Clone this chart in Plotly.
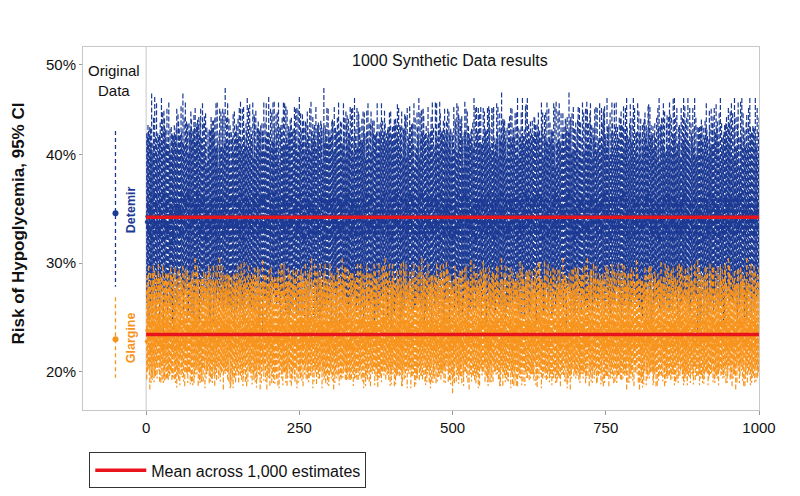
import plotly.graph_objects as go

# ---------------- data ----------------
# Original data: point estimate, lower and upper 95% CI (percent)
ORIG_X = -50
DETEMIR_ORIG = {"est": 34.6, "lo": 27.8, "hi": 42.2}
GLARGINE_ORIG = {"est": 22.95, "lo": 19.4, "hi": 26.85}

# 1000 synthetic data results, read off the picture and stored as digit codes
# (one digit per synthetic data set, 0-9).
# estimate (%) = EST_BASE + EST_STEP * code
# upper CI (%) = estimate + UP_BASE + UP_STEP * spread code
# lower CI (%) = estimate - DN_BASE - DN_STEP * spread code
DETEMIR_SCALE = {"EST_BASE": 31.8, "EST_STEP": 0.5, "UP_BASE": 6.1, "UP_STEP": 0.42, "DN_BASE": 6.0, "DN_STEP": 0.3}
GLARGINE_SCALE = {"EST_BASE": 21.7, "EST_STEP": 0.35, "UP_BASE": 4.0, "UP_STEP": 0.18, "DN_BASE": 3.0, "DN_STEP": 0.14}

DETEMIR_EST_CODE = [
    "4537264581 3649527345 5263847195 4736258340 6425183756 3574629548 2648573915 5384726457 4659372864 3725846153",
    "5436274853 4627385146 3845627394 6273548152 4538264735 5729346185 3456827463 6348257194 4572638451 5836472539",
    "4263758496 3547286153 5648372945 2735486164 4856273549 3672548157 5483627496 4726358243 6352847159 3845726648",
    "5274638451 4638527364 3756284915 5482637348 4627385562 3548276149 6735248453 4826357134 5367482695 4453627381",
    "3627485946 5743628153 4586273449 6348527162 3754826395 4682537148 5436728354 2847365196 4573826447 5638274351",
    "4825637294 3574826159 5648273436 4362857184 6735482547 3846257395 5427368142 4758236649 3564827153 5283746458",
    "4637285143 5728463596 3854627248 4576382957 6243857134 3758426465 5362748193 4827536346 3645827559 5472638142",
    "6354827461 4837256395 3526748154 5648372647 4273586935 3865427148 5437268563 4625837294 3748562156 5364827445",
    "4728365143 3657482596 5843627245 4362758164 6547283359 3728546147 4856372563 5273648495 3648527154 4735826360",
    "5362748451 4857362394 3645827546 5734628153 4263857467 3584726258 6427385149 4836527364 3574862547 5248637356",
]
DETEMIR_SPREAD_CODE = [
    "5382746194 4627358153 3754826947 6248537365 4573826158 3846275439 5627348146 4758263957 3462857384 5836427150",
    "4273856349 5648372158 3527846493 6384752146 4825637357 3746528465 5263847195 4637285342 6548372169 3725486457",
    "5483627364 3856274158 4627385549 5374826136 3648572947 4725863454 6358247163 3574826468 5846372259 4263758341",
    "3748526159 5627384452 4836257367 3564827148 6247358546 4735862354 3846275169 5372648457 4658237346 3527486258",
    "6453827149 3728465357 5846273455 4372658163 3654827549 5847263346 4263587152 3758426467 5426378354 4835726148",
    "3647528359 5738462146 4825736453 6354827265 3748265147 4563827359 5237486445 3846257168 4758362354 6245738451",
    "4736285347 3658427159 5827364453 4356827146 3842756369 5627348452 4735826164 3568247357 6427385148 4853726465",
    "5348627153 4726358469 3657842354 5836274148 4273658563 3845726457 6538247145 4627583356 3748526269 5463827154",
    "4825637348 3576428159 5648273456 4362758247 6738452163 3547826359 4836275148 5274638456 3658247365 4735826147",
    "5647382354 4358726146 3826457459 5463728163 4738265347 3654827258 6245873146 4837562359 3572846453 5468237146",
]
GLARGINE_EST_CODE = [
    "3658427145 4826357369 5473628154 3748526457 6254837163 4637285548 3825746156 5364827249 4758362154 3647528356",
    "5826374158 4357286349 3648527456 5736482164 4285637357 3754826149 5462738456 4638527263 3857426159 5476382347",
    "4368257154 5647382469 3725846153 4856273347 6347528156 3584726458 4736258349 5263847157 3648572465 4825637148",
    "5374826156 3846275349 4658372257 3527486164 6453827358 4738265147 3654827456 5827364148 4362758359 3746528153",
    "4857263346 5637482158 3748526457 6247358163 4536827349 3857426258 5362748146 4728365357 3645827169 5846273451",
    "3528746354 4637285158 5846372459 3754826246 4263857358 5748362147 3625847456 4857362159 6347528254 3758246163",
    "5463827348 3728465157 4586273456 5347826149 3856274358 4627385246 6238547153 3745826459 5837462146 4263758357",
    "3647825156 5736482349 4825637158 3568247456 6354827147 4738265358 3827456149 5463728357 4652837146 3754826459",
    "5836274153 4357826348 3748562156 6253847459 4637528146 3845726357 5274638149 4758362256 3627485158 5436827349",
    "4726358154 3857462349 5648273156 4372658457 3547826149 6835427356 4263857148 5746382359 3654728146 4827365357",
]
GLARGINE_SPREAD_CODE = [
    "4627385159 5738264346 3846527157 4563827458 6275348149 3847526357 5364728146 4728356459 3657842148 5486273356",
    "3748526157 4856273349 5627384156 3546827458 4738265149 6354827357 3826457146 5473628359 4657382148 3746528257",
    "5836472149 4263857356 3754826158 5627348457 4386275146 3857462358 6247385149 4735826256 3568427159 5846372348",
    "4357286153 3648527459 5736482147 4825637356 3574826158 6453728349 4728365156 3856247458 5263847149 4637528357",
    "3854627148 5427386359 4658372156 3746258457 5834726149 4263857358 3657482146 6348527259 4725836157 3586247348",
    "5647382159 3826457346 4753628158 5364827457 3748526149 4586273358 6237485146 3758426359 4825637157 5436728248",
    "4728365159 3657842346 5846273158 4372658457 3854726149 5627384358 4536827146 3748562359 6254837157 4863725248",
    "3748526156 5836274349 4263857158 3657482457 5748362149 4825637358 3546827146 6374528359 4738265157 3857462248",
    "5364827159 4738256346 3827465158 5648372457 4253768149 3746528358 6538247146 4827365359 3658427157 5473826248",
    "4857362159 3648275346 5726384158 4385627457 3657842149 5748263358 4826537146 3574826359 6243758157 4736528248",
]

X_TICKS = [0, 250, 500, 750, 1000]
Y_TICK_VALS = [20, 30, 40, 48.33]
Y_TICK_TEXT = ["20%", "30%", "40%", "50%"]

BLUE = "#1c3a94"
ORANGE = "#f7941d"
RED = "#e8141c"
FRAME = "#c8c8c8"
FONT = "Liberation Sans, Arial, sans-serif"


def decode(name, rows):
    groups = " ".join(rows).split()
    bad = [(k, g, len(g)) for k, g in enumerate(groups) if len(g) != 10]
    if bad or len(groups) != 100:
        raise ValueError(f"{name}: {len(groups)} groups, bad: {bad}")
    return [int(c) for c in "".join(groups)]


def series(est_rows, spread_rows, sc, name):
    e = decode(name + "_est", est_rows)
    s = decode(name + "_spread", spread_rows)
    est = [sc["EST_BASE"] + sc["EST_STEP"] * d for d in e]
    hi = [v + sc["UP_BASE"] + sc["UP_STEP"] * w for v, w in zip(est, s)]
    lo = [v - sc["DN_BASE"] - sc["DN_STEP"] * w for v, w in zip(est, s)]
    return est, lo, hi


fig = go.Figure()


def add_synth(est, lo, hi, color):
    xs, ys = [], []
    for i, (l, h) in enumerate(zip(lo, hi), start=1):
        xs += [i, i, None]
        ys += [h, l, None]
    fig.add_trace(go.Scatter(x=xs, y=ys, mode="lines", showlegend=False, hoverinfo="skip",
                             line=dict(color=color, width=1.2, dash="5px,2px")))
    fig.add_trace(go.Scatter(x=list(range(1, len(est) + 1)), y=est, mode="markers", showlegend=False,
                             marker=dict(color=color, size=4, line=dict(width=0))))


det_est, det_lo, det_hi = series(DETEMIR_EST_CODE, DETEMIR_SPREAD_CODE, DETEMIR_SCALE, "detemir")
gla_est, gla_lo, gla_hi = series(GLARGINE_EST_CODE, GLARGINE_SPREAD_CODE, GLARGINE_SCALE, "glargine")

add_synth(det_est, det_lo, det_hi, BLUE)
add_synth(gla_est, gla_lo, gla_hi, ORANGE)

# original data
for d, color in [(DETEMIR_ORIG, BLUE), (GLARGINE_ORIG, ORANGE)]:
    fig.add_trace(go.Scatter(x=[ORIG_X, ORIG_X], y=[d["hi"], d["lo"]], mode="lines", showlegend=False,
                             line=dict(color=color, width=1.3, dash="4px,3px")))
    fig.add_trace(go.Scatter(x=[ORIG_X], y=[d["est"]], mode="markers", showlegend=False,
                             marker=dict(color=color, size=6)))

# means across the 1,000 estimates
n = len(det_est)
det_mean = sum(det_est) / n
gla_mean = sum(gla_est) / n
fig.add_trace(go.Scatter(x=[0, 1000], y=[det_mean, det_mean], mode="lines", name="Mean across 1,000 estimates",
                         line=dict(color=RED, width=3.5), showlegend=True))
fig.add_trace(go.Scatter(x=[0, 1000], y=[gla_mean, gla_mean], mode="lines", showlegend=False,
                         line=dict(color=RED, width=3.5)))

fig.add_shape(type="line", xref="x", yref="paper", x0=0, x1=0, y0=0, y1=1,
              line=dict(color=FRAME, width=1), layer="below")

fig.add_annotation(x=-52, y=0.908, xref="x", yref="paper", text="Original<br>Data",
                   xanchor="center", yanchor="middle", showarrow=False,
                   font=dict(family=FONT, size=15, color="#111"))
fig.add_annotation(x=496, y=0.962, xref="x", yref="paper", text="1000 Synthetic Data results",
                   xanchor="center", yanchor="middle", showarrow=False,
                   font=dict(family=FONT, size=16, color="#111"))
fig.add_annotation(x=-24.5, y=34.9, xref="x", yref="y", text="<b>Detemir</b>", textangle=-90,
                   xanchor="center", yanchor="middle", showarrow=False,
                   font=dict(family=FONT, size=12.5, color=BLUE))
fig.add_annotation(x=-24.5, y=23.06, xref="x", yref="y", text="<b>Glargine</b>", textangle=-90,
                   xanchor="center", yanchor="middle", showarrow=False,
                   font=dict(family=FONT, size=12.5, color=ORANGE))
fig.add_annotation(x=-0.0956, y=0.515, xref="paper", yref="paper", text="<b>Risk of Hypoglycemia, 95% CI</b>",
                   textangle=-90, xanchor="center", yanchor="middle", showarrow=False,
                   font=dict(family=FONT, size=17, color="#111"))

fig.update_layout(
    width=800, height=496,
    margin=dict(l=83, r=41, t=47, b=86, autoexpand=False),
    paper_bgcolor="white", plot_bgcolor="white",
    font=dict(family=FONT, size=15, color="#111"),
    showlegend=True,
    legend=dict(x=0.0093, y=-0.117, xanchor="left", yanchor="top", orientation="h",
                itemwidth=51, bordercolor="#333", borderwidth=1,
                font=dict(family=FONT, size=16, color="#111"), bgcolor="white"),
)
fig.update_xaxes(range=[-103, 1000], tickvals=X_TICKS, showgrid=False, zeroline=False,
                 showline=True, linecolor=FRAME, mirror=True, ticks="outside", ticklen=4,
                 tickcolor="#999", tickfont=dict(size=15), automargin=False)
fig.update_yaxes(range=[16.42, 49.97], tickvals=Y_TICK_VALS, ticktext=Y_TICK_TEXT, showgrid=False,
                 zeroline=False, showline=True, linecolor=FRAME, mirror=True, ticks="outside",
                 ticklen=3, tickcolor="#999", tickfont=dict(size=15), automargin=False)

fig.write_html("out.html", config={"displayModeBar": False},
               post_script="document.body.style.margin='0px';")
